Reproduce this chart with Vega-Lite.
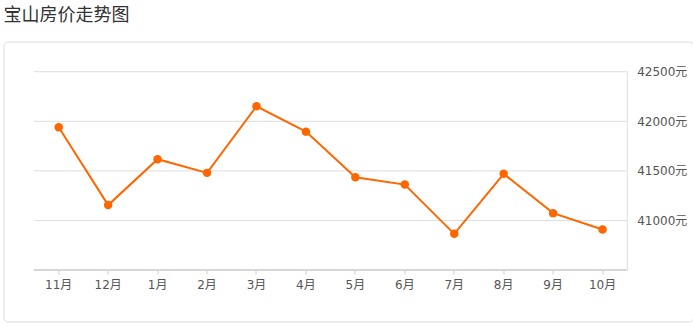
{
  "$schema": "https://vega.github.io/schema/vega-lite/v6.json",
  "autosize": {"type": "none"},
  "width": 689.5,
  "height": 280,
  "padding": {"left": 3.5, "top": 41.5, "right": 0, "bottom": 4.5},
  "background": "white",
  "title": {"text": "宝山房价走势图", "anchor": "start", "frame": "group", "fontSize": 18, "fontWeight": "normal", "color": "#333333", "font": "Noto Sans CJK SC", "offset": 17},
  "config": {"view": {"stroke": "#dcdcdc", "cornerRadius": 4, "strokeWidth": 1}},
  "resolve": {"axis": {"x": "independent", "y": "independent"}},
  "data": {"values": [
    {"month": "11月", "price": 41940},
    {"month": "12月", "price": 41155},
    {"month": "1月", "price": 41618},
    {"month": "2月", "price": 41480},
    {"month": "3月", "price": 42152},
    {"month": "4月", "price": 41896},
    {"month": "5月", "price": 41436},
    {"month": "6月", "price": 41362},
    {"month": "7月", "price": 40865},
    {"month": "8月", "price": 41470},
    {"month": "9月", "price": 41074},
    {"month": "10月", "price": 40909}
  ]},
  "layer": [
    {
      "data": {"values": [{"v": 41000}, {"v": 41500}, {"v": 42000}, {"v": 42500}]},
      "mark": {"type": "rule", "color": "#dedede", "strokeWidth": 1},
      "encoding": {
        "y": {"field": "v", "type": "quantitative", "scale": {"domain": [39981, 42805], "nice": false, "zero": false}, "axis": null},
        "x": {"datum": "11月", "type": "ordinal", "bandPosition": 0,
          "scale": {"type": "band", "domain": ["11月","12月","1月","2月","3月","4月","5月","6月","7月","8月","9月","10月"], "paddingInner": 0, "paddingOuter": 0.973, "align": 0.317}, "axis": null},
        "x2": {"datum": "10月", "bandPosition": 1}
      }
    },
    {
      "data": {"values": [{"v": 40500}]},
      "mark": {"type": "rule", "color": "#d6d6d6", "strokeWidth": 2},
      "encoding": {
        "y": {"field": "v", "type": "quantitative", "scale": {"domain": [39981, 42805], "nice": false, "zero": false}, "axis": null},
        "x": {"datum": "11月", "type": "ordinal", "bandPosition": 0,
          "scale": {"type": "band", "domain": ["11月","12月","1月","2月","3月","4月","5月","6月","7月","8月","9月","10月"], "paddingInner": 0, "paddingOuter": 0.973, "align": 0.317}, "axis": null},
        "x2": {"datum": "10月", "bandPosition": 1}
      }
    },
    {
      "data": {"values": [{"lo": 40500, "hi": 42500}]},
      "mark": {"type": "rule", "color": "#dedede", "strokeWidth": 1},
      "encoding": {
        "y": {"field": "lo", "type": "quantitative", "scale": {"domain": [39981, 42805], "nice": false, "zero": false}, "axis": null},
        "y2": {"field": "hi"},
        "x": {"datum": "10月", "type": "ordinal", "bandPosition": 1,
          "scale": {"type": "band", "domain": ["11月","12月","1月","2月","3月","4月","5月","6月","7月","8月","9月","10月"], "paddingInner": 0, "paddingOuter": 0.973, "align": 0.317}, "axis": null}
      }
    },
    {
      "mark": {"type": "line", "color": "#ff6600", "strokeWidth": 2, "point": {"filled": true, "size": 72, "color": "#ff6600", "opacity": 1}},
      "encoding": {
        "x": {"field": "month", "type": "ordinal", "bandPosition": 0.5,
          "scale": {"type": "band", "domain": ["11月","12月","1月","2月","3月","4月","5月","6月","7月","8月","9月","10月"], "paddingInner": 0, "paddingOuter": 0.973, "align": 0.317},
          "axis": {"orient": "bottom", "offset": -51.5, "domain": false, "grid": false, "ticks": true, "tickSize": 4, "tickColor": "#cccccc", "labelAngle": 0, "labelFontSize": 12, "labelColor": "#555555", "labelFont": "DejaVu Sans, Noto Sans CJK SC", "labelPadding": 5, "title": null}},
        "y": {"field": "price", "type": "quantitative",
          "scale": {"domain": [39981, 42805], "nice": false, "zero": false},
          "axis": {"orient": "right", "offset": -65.8, "values": [41000, 41500, 42000, 42500], "grid": false, "domain": false, "ticks": false, "labelPadding": 9.5, "labelFontSize": 12, "labelColor": "#555555", "labelFont": "DejaVu Sans, Noto Sans CJK SC", "labelExpr": "datum.value + '元'", "title": null}}
      }
    }
  ]
}
